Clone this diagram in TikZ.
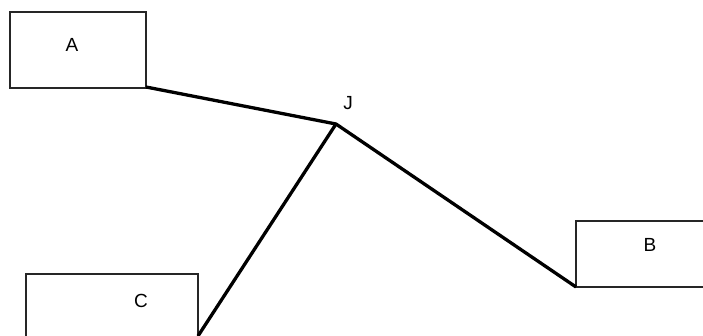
\documentclass[tikz,border=0pt]{standalone}
\usepackage{fontspec}
\setmainfont{Liberation Sans}
\begin{document}
\begin{tikzpicture}[x=1pt,y=-1pt,
  boxstyle/.style={draw=black!85,line width=1.7pt,fill=white},
  lbl/.style={font=\fontsize{19}{21}\selectfont,inner sep=0pt},
  wire/.style={line width=3.3pt,black}]
\useasboundingbox (0,0) rectangle (703,335);
\clip (0,0) rectangle (703,335);
% boxes
\draw[boxstyle] (10,12) rectangle (146,88);
\coordinate (Ase) at (146,87);
\draw[boxstyle] (576,221) rectangle (720,287);
\coordinate (Bsw) at (576,287);
\draw[boxstyle] (26,274) rectangle (198,345);
\coordinate (Cse) at (198,336);
\node[lbl] (A) at (72,45) {A};
\node[lbl] (B) at (650,245) {B};
\node[lbl] (C) at (141,301) {C};
\coordinate (J) at (336,124);
\node[lbl] (Jl) at (348,103) {J};
% connectors
\draw[wire,line join=miter] (Ase) -- (J) -- (Bsw);
\draw[wire] (J) -- (Cse);
\end{tikzpicture}
\end{document}
